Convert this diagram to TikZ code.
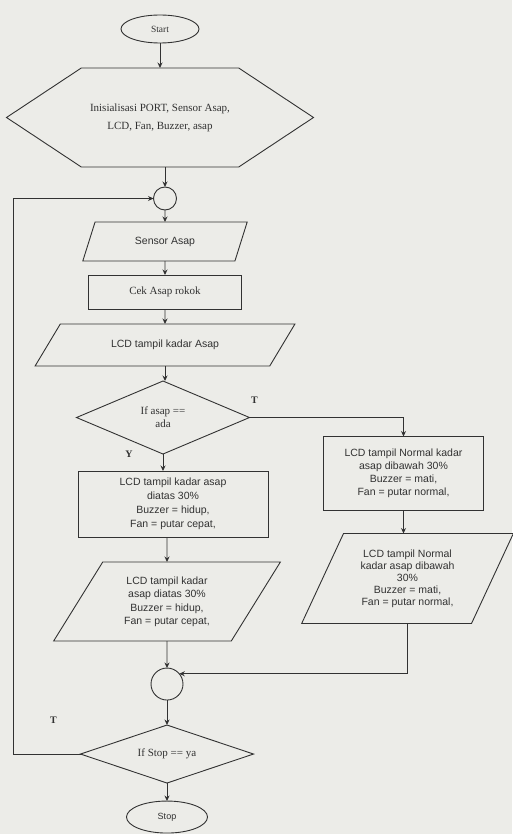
\documentclass[tikz,border=0pt]{standalone}
\usepackage{fontspec}
\setmainfont{Liberation Serif}
\setsansfont{Liberation Sans}
\usetikzlibrary{positioning,shapes.geometric,shapes.symbols,arrows.meta}
\definecolor{paper}{RGB}{236,236,232}
\definecolor{ink}{RGB}{50,50,50}
\begin{document}
\begin{tikzpicture}[x=1pt,y=1pt,>={Stealth[length=5.5pt,width=5pt]},
                    color=ink,line width=0.9pt,every node/.style={outer sep=0pt},
                    terminal/.style={ellipse,draw,inner sep=0pt,font=\fontsize{9.5}{10}\selectfont},
                    hexbox/.style={signal,signal to=west and east,signal pointer angle=67,draw,
                                   inner sep=0pt,align=center,font=\fontsize{11}{18}\selectfont},
                    joint/.style={circle,draw,inner sep=0pt},
                    iobox/.style={trapezium,trapezium stretches=true,draw,inner sep=0pt,
                                  align=center,font=\sffamily\fontsize{10.5}{13.5}\selectfont},
                    procbox/.style={rectangle,draw,inner sep=0pt,align=center},
                    choice/.style={diamond,draw,inner sep=0pt,align=center,
                                   font=\fontsize{11}{13}\selectfont},
                    tag/.style={font=\bfseries\fontsize{10}{10}\selectfont}]

    % Background
    \fill[paper] (0,0) rectangle (512,-834);
    \useasboundingbox (0,0) rectangle (512,-834);

    % Main column
    \node[terminal,minimum width=78,minimum height=28] (start) at (160,-29) {Start};
    \node[hexbox,minimum width=307,minimum height=99] (init) [below=25pt of start]
        {Inisialisasi PORT, Sensor Asap,\\ LCD, Fan, Buzzer, asap};
    \node[joint,minimum size=23] (c1) [below=20pt of init,xshift=5pt] {};
    \node[iobox,trapezium left angle=61,trapezium right angle=119,
          minimum width=165,minimum height=39] (sensor) [below=12pt of c1] {Sensor Asap};
    \node[procbox,minimum width=153,minimum height=34,font=\fontsize{11}{13}\selectfont]
        (cek) [below=14pt of sensor] {Cek Asap rokok};
    \node[iobox,trapezium left angle=37,trapezium right angle=143,
          minimum width=260,minimum height=42] (lcd) [below=15pt of cek] {LCD tampil kadar Asap};
    \node[choice,aspect=2.4,minimum width=173,minimum height=73] (d1) [below=15pt of lcd,xshift=-2pt]
        {If asap ==\\ ada};

    % Left branch (Y)
    \node[procbox,minimum width=190,minimum height=66,font=\sffamily\fontsize{10.5}{14}\selectfont]
        (lbox) [below=17pt of d1,xshift=10pt]
        {LCD tampil kadar asap\\ diatas 30\%\\ Buzzer = hidup,\\ Fan = putar cepat,};
    \node[iobox,trapezium left angle=57,trapezium right angle=123,
          minimum width=227,minimum height=79] (lpara) [below=25pt of lbox,xshift=-6pt]
        {LCD tampil kadar\\ asap diatas 30\%\\ Buzzer = hidup,\\ Fan = putar cepat,};

    % Right branch (T)
    \node[procbox,minimum width=160,minimum height=74,font=\sffamily\fontsize{10.5}{13}\selectfont,
          anchor=north] (rbox) at ([shift={(154,-19)}]d1.east)
        {LCD tampil Normal kadar\\ asap dibawah 30\%\\ Buzzer = mati,\\ Fan = putar normal,};
    \node[iobox,trapezium left angle=62,trapezium right angle=118,
          minimum width=212,minimum height=90,font=\sffamily\fontsize{10.5}{12}\selectfont]
        (rpara) [below=23pt of rbox,xshift=4pt]
        {LCD tampil Normal\\ kadar asap dibawah\\ 30\%\\ Buzzer = mati,\\ Fan = putar normal,};

    % Join and end
    \node[joint,minimum size=32] (c2) [below=27pt of lpara] {};
    \node[choice,aspect=3,minimum width=173,minimum height=58] (d2) [below=25pt of c2] {If Stop == ya};
    \node[terminal,minimum width=81,minimum height=32,font=\sffamily\fontsize{9}{10}\selectfont]
        (stop) [below=18pt of d2] {Stop};

    % Labels
    \node[tag] (no1) at ([shift={(5,17)}]d1.east) {T};
    \node[tag] (yes1) at ([shift={(-34,0)}]d1.south) {Y};
    \node[tag] (no2) at ([shift={(-27,34)}]d2.west) {T};

    % Edges
    \draw[->] (start) -- (start |- init.north);
    \draw[->] (c1 |- init.south) -- (c1);
    \path[->] (c1) edge (sensor)
              (sensor) edge (cek)
              (cek) edge (lcd)
              (lcd.south) edge (lcd.south |- d1.north);
    \draw[->] (d1) -- (d1 |- lbox.north);
    \draw[->] (lpara |- lbox.south) -- (lpara.north);
    \draw[->] (lpara) -- (c2);
    \draw[->] (d1.east) -| (rbox.north);
    \draw[->] (rbox) -- (rbox.south |- rpara.north);
    \draw[->] (rpara.south) |- (c2.40);
    \draw[->] (c2) -- (d2);
    \draw[->] (d2) -- (stop);
    \draw[->] (d2.west) -- ++(-67,0) |- (c1.west);

\end{tikzpicture}
\end{document}
